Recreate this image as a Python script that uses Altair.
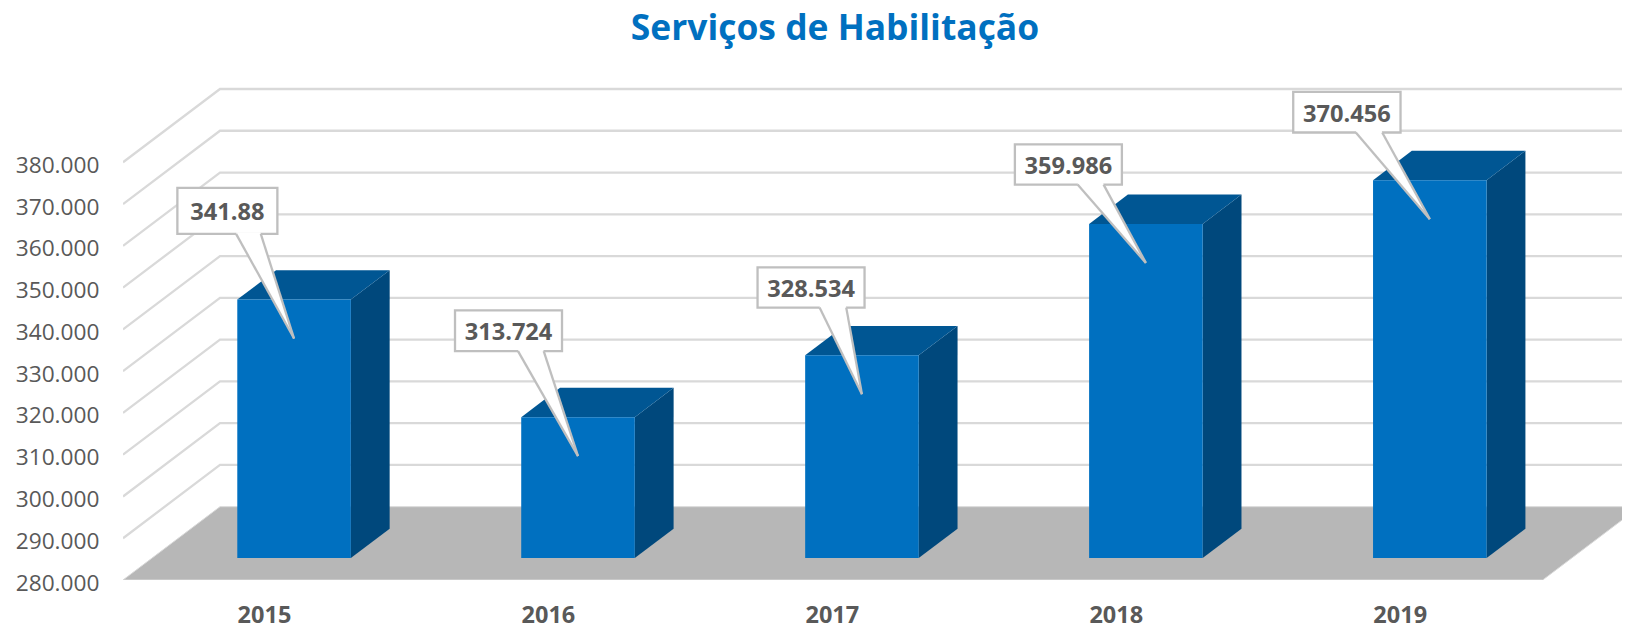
import altair as alt
import pandas as pd

# ---- chart values ----
years = [2015, 2016, 2017, 2018, 2019]
values = [341880, 313724, 328534, 359986, 370456]
value_labels = ["341.88", "313.724", "328.534", "359.986", "370.456"]
y_ticks = [280000, 290000, 300000, 310000, 320000, 330000, 340000, 350000, 360000, 370000, 380000]
title_text = "Serviços de Habilitação"

# ---- callout geometry, pixels relative to each callout's tip ----
box_left = [-116.7, -123, -104.4, -131, -136.6]
box_right = [-16.7, -16, 2.6, -24, -29.3]
box_top = [-150.7, -145.7, -127, -118.6, -127.3]
box_bottom = [-104.7, -105, -86.7, -78.3, -86.7]
base_left = [-58, -60, -42.4, -68.3, -74]
base_right = [-33.3, -34.3, -15.7, -42.3, -47.6]
tip_drop = 39

# ---- scale and pseudo-3D projection ----
PX_YEAR = 283.94
PX_VAL = 41.77 / 10000
PLOT_W = 1499
PLOT_H = 500
X0 = 2014.5
X1 = 2019.5
XMAX = X0 + PLOT_W / PX_YEAR
Y0 = 280000
YMAX = Y0 + PLOT_H / PX_VAL
DX = 97 / PX_YEAR      # floor depth in year units
DY = 73.3 / PX_VAL     # floor depth in value units
F, B = 0.30, 0.70      # front/back plane of the bars within the depth
HALF = 0.2             # half bar width

xs = alt.Scale(domain=[X0, XMAX], nice=False, zero=False)
ys = alt.Scale(domain=[Y0, YMAX], nice=False, zero=False)
GREY = "#d9d9d9"
C_FRONT, C_TOP, C_SIDE = "#0070c0", "#005693", "#00487c"
C_BORDER = "#bfbfbf"
TEXT = "#595959"
FONT = "Open Sans"

x_axis = alt.Axis(
    values=years, format="d", domain=False, ticks=False, grid=False, title=None,
    labelFont=FONT, labelFontSize=23.5, labelFontWeight="bold", labelColor=TEXT,
    labelPadding=23, labelOffset=-1, labelFlush=False, labelOverlap=False)
y_axis = alt.Axis(
    values=y_ticks, domain=False, ticks=False, grid=False, title=None,
    labelExpr="replace(format(datum.value, ','), ',', '.')",
    labelFont=FONT, labelFontSize=22.7, labelColor=TEXT, labelPadding=24,
    labelOffset=3, labelOverlap=False)


def X(field="x"):
    return alt.X(f"{field}:Q", scale=xs, axis=x_axis)


def Y(field="y"):
    return alt.Y(f"{field}:Q", scale=ys, axis=y_axis)


# gridlines on side and back walls
grid_rows = []
for v in y_ticks[1:]:
    grid_rows += [
        {"t": v, "x": X0, "y": v, "i": 0},
        {"t": v, "x": X0 + DX, "y": v + DY, "i": 1},
        {"t": v, "x": XMAX, "y": v + DY, "i": 2},
    ]
grid = alt.Chart(pd.DataFrame(grid_rows)).mark_line(color=GREY, strokeWidth=2.3, clip=True).encode(
    x=X(), y=Y(), detail="t:N", order="i:Q")

# floor
floor_df = pd.DataFrame([
    {"y": Y0, "x": X0, "x2": X1},
    {"y": Y0 + DY, "x": X0 + DX, "x2": X1 + DX},
])
floor = alt.Chart(floor_df).mark_area(orient="horizontal", color="#b7b7b7", stroke=GREY, strokeWidth=1, clip=True).encode(
    y=Y(), x=X(), x2="x2:Q")

# bar faces
front_rows, top_rows, side_rows = [], [], []
for yr, v in zip(years, values):
    c = yr + F * DX
    front_rows.append({"x": c - HALF, "x2": c + HALF, "y": Y0 + F * DY, "y2": v + F * DY})
    top_rows += [
        {"k": yr, "y": v + F * DY, "x": c - HALF, "x2": c + HALF},
        {"k": yr, "y": v + B * DY, "x": c - HALF + (B - F) * DX, "x2": c + HALF + (B - F) * DX},
    ]
    side_rows += [
        {"k": yr, "x": c + HALF, "y": Y0 + F * DY, "y2": v + F * DY},
        {"k": yr, "x": c + HALF + (B - F) * DX, "y": Y0 + B * DY, "y2": v + B * DY},
    ]
side = alt.Chart(pd.DataFrame(side_rows)).mark_area(color=C_SIDE).encode(
    x=X(), y=Y(), y2="y2:Q", detail="k:N")
top = alt.Chart(pd.DataFrame(top_rows)).mark_area(orient="horizontal", color=C_TOP).encode(
    y=Y(), x=X(), x2="x2:Q", detail="k:N")
front = alt.Chart(pd.DataFrame(front_rows)).mark_rect(color=C_FRONT).encode(
    x=X(), x2="x2:Q", y=Y(), y2="y2:Q")

# callouts
box_rows, tail_rows, edge_rows, text_rows = [], [], [], []
for i, (yr, v, lab) in enumerate(zip(years, values, value_labels)):
    tx = yr + F * DX
    ty = v + F * DY - tip_drop / PX_VAL
    px = lambda d: tx + d / PX_YEAR
    py = lambda d: ty - d / PX_VAL
    box_rows.append({"x": px(box_left[i]), "x2": px(box_right[i]),
                     "y": py(box_top[i]), "y2": py(box_bottom[i])})
    text_rows.append({"x": px((box_left[i] + box_right[i]) / 2),
                      "y": py((box_top[i] + box_bottom[i]) / 2), "label": lab})
    tail_rows += [
        {"k": yr, "y": py(box_bottom[i] - 1.5), "x": px(base_left[i] + 0.4), "x2": px(base_right[i] - 0.4)},
        {"k": yr, "y": py(box_bottom[i]), "x": px(base_left[i]), "x2": px(base_right[i])},
        {"k": yr, "y": ty, "x": tx, "x2": tx},
    ]
    edge_rows += [
        {"k": f"{yr}l", "x": px(base_left[i]), "y": py(box_bottom[i])},
        {"k": f"{yr}l", "x": tx, "y": ty},
        {"k": f"{yr}r", "x": px(base_right[i]), "y": py(box_bottom[i])},
        {"k": f"{yr}r", "x": tx, "y": ty},
    ]
boxes = alt.Chart(pd.DataFrame(box_rows)).mark_rect(fill="white", stroke=C_BORDER, strokeWidth=2.3).encode(
    x=X(), x2="x2:Q", y=Y(), y2="y2:Q")
tails = alt.Chart(pd.DataFrame(tail_rows)).mark_area(orient="horizontal", color="white").encode(
    y=Y(), x=X(), x2="x2:Q", detail="k:N")
edges = alt.Chart(pd.DataFrame(edge_rows)).mark_line(color=C_BORDER, strokeWidth=2.3).encode(
    x=X(), y=Y(), detail="k:N")
texts = alt.Chart(pd.DataFrame(text_rows)).mark_text(
    font=FONT, fontSize=23.6, fontWeight="bold", color=TEXT, baseline="middle", align="center", dy=2.5
).encode(x=X(), y=Y(), text="label:N")

chart = alt.layer(grid, floor, side, top, front, boxes, tails, edges, texts).properties(
    width=PLOT_W,
    height=PLOT_H,
    padding={"left": 115, "top": 72, "right": 0, "bottom": 50},
    autosize=alt.AutoSizeParams(type="none"),
    background="white",
    title=alt.TitleParams(text=title_text, font=FONT, fontSize=35.4, fontWeight="bold",
                          color=C_FRONT, anchor="middle", dx=-37.5, offset=33),
).configure_view(strokeWidth=0)

chart.save("out.html", embed_options={"renderer": "svg", "actions": False})
